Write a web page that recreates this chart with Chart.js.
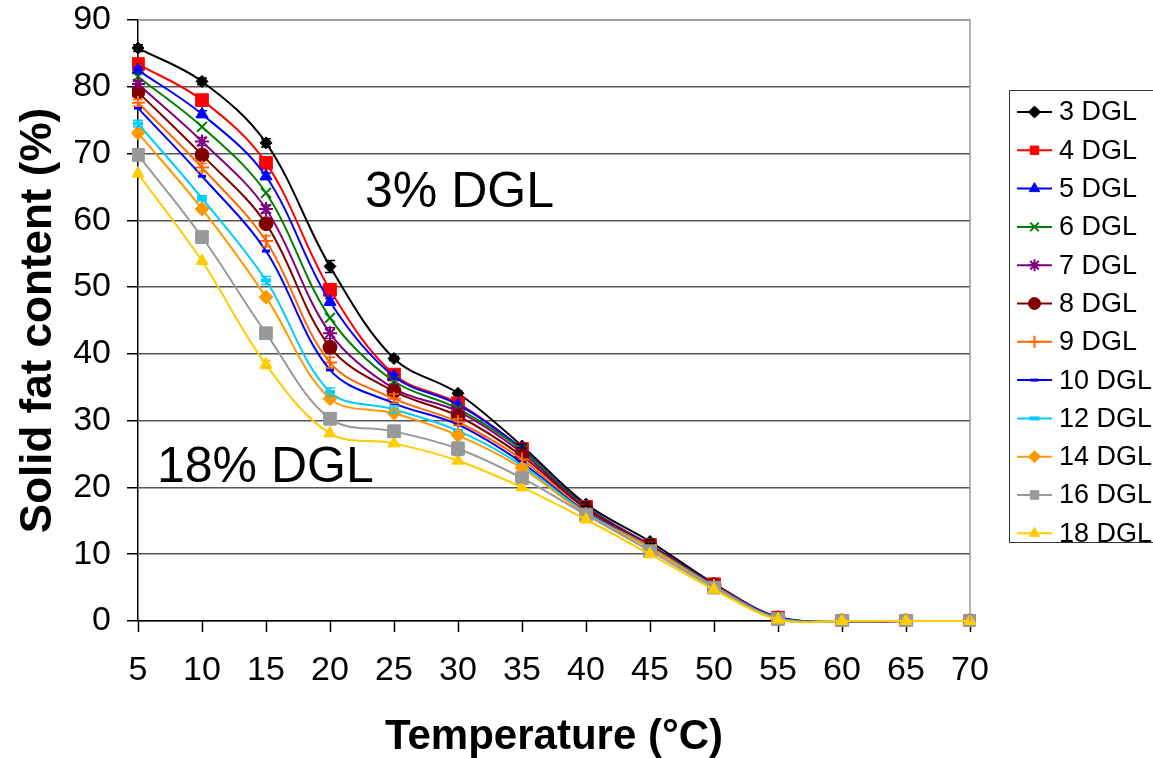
<!DOCTYPE html>
<html>
<head>
<meta charset="utf-8">
<title>Solid fat content vs temperature</title>
<script src="https://cdn.jsdelivr.net/npm/chart.js@4.4.0/dist/chart.umd.min.js"></script>
<style>
  html, body { margin: 0; padding: 0; background: #fff; }
  #wrap { width: 1153px; height: 758px; position: relative; }
</style>
</head>
<body>
<div id="wrap"><canvas id="sfcChart" width="1153" height="758"></canvas></div>
<script>
// temperatures (°C)
const temps = [5, 10, 15, 20, 25, 30, 35, 40, 45, 50, 55, 60, 65, 70];

// solid fat content (%) per DGL level
const dgl3  = [85.8, 80.8, 71.6, 53.1, 39.3, 34.1, 26.2, 17.5, 11.9, 5.6, 0.6, 0, 0, 0];
const dgl4  = [83.4, 78.0, 68.6, 49.6, 36.9, 32.6, 25.8, 17.1, 11.4, 5.5, 0.5, 0, 0, 0];
const dgl5  = [82.5, 75.9, 66.6, 47.8, 36.6, 32.4, 25.8, 17.1, 11.4, 5.5, 0.5, 0, 0, 0];
const dgl6  = [81.5, 74.0, 64.1, 45.4, 35.9, 31.8, 25.6, 17.0, 11.3, 5.4, 0.5, 0, 0, 0];
const dgl7  = [80.4, 71.8, 61.7, 43.1, 34.8, 31.4, 25.2, 16.9, 11.3, 5.4, 0.5, 0, 0, 0];
const dgl8  = [79.2, 69.8, 59.5, 41.0, 34.4, 30.7, 24.7, 16.8, 11.2, 5.4, 0.4, 0, 0, 0];
const dgl9  = [77.6, 67.9, 56.9, 38.7, 33.3, 29.8, 24.2, 16.4, 11.1, 5.3, 0.4, 0, 0, 0];
const dgl10 = [76.8, 66.6, 55.4, 37.6, 32.6, 29.4, 23.7, 16.3, 11.0, 5.2, 0.4, 0, 0, 0];
const dgl12 = [74.5, 63.3, 51.0, 34.3, 31.7, 28.5, 23.3, 16.2, 11.0, 5.2, 0.4, 0, 0, 0];
const dgl14 = [73.1, 61.7, 48.5, 33.3, 31.1, 27.8, 22.9, 16.0, 10.9, 5.1, 0.3, 0, 0, 0];
const dgl16 = [69.8, 57.5, 43.1, 30.3, 28.4, 25.8, 21.4, 15.9, 10.5, 5.0, 0.3, 0, 0, 0];
const dgl18 = [67.0, 53.9, 38.4, 28.1, 26.6, 24.0, 20.0, 15.2, 10.0, 4.7, 0.2, 0, 0, 0];

// standard deviations (error bars), same order as the series
const sd3  = [0.5, 0.5, 0.6, 0.9, 0.3, 0.3, 0.3, 0.3, 0.3, 0, 0, 0, 0, 0];
const sd5  = [0.4, 0.5, 0.5, 0.5, 0.3, 0, 0, 0, 0, 0, 0, 0, 0, 0];
const sd7  = [0.5, 0.6, 0.6, 0.8, 0, 0, 0, 0, 0, 0, 0, 0, 0, 0];
const sd9  = [0.5, 0.6, 0.8, 0.8, 0.7, 0.5, 0, 0, 0, 0, 0, 0, 0, 0];
const sd12 = [0.5, 0.4, 0.6, 0.6, 0.5, 0, 0, 0, 0, 0, 0, 0, 0, 0];
const sd16 = [0, 0, 0, 0.9, 0.9, 1.0, 0.7, 0, 0, 0, 0, 0, 0, 0];
const sd18 = [0, 0, 0.6, 0, 0, 0, 0, 0, 0, 0, 0, 0, 0, 0];
const none = [];

const seriesLabels = ['3 DGL', '4 DGL', '5 DGL', '6 DGL', '7 DGL', '8 DGL', '9 DGL', '10 DGL', '12 DGL', '14 DGL', '16 DGL', '18 DGL'];
const seriesValues = [dgl3, dgl4, dgl5, dgl6, dgl7, dgl8, dgl9, dgl10, dgl12, dgl14, dgl16, dgl18];
const seriesErrors = [sd3, none, sd5, none, sd7, none, sd9, none, sd12, none, sd16, sd18];
const seriesColors = ['#000000', '#ff0000', '#0000ff', '#008000', '#800080', '#800000', '#ff6600', '#0000ff', '#00ccff', '#ff9900', '#999999', '#ffcc00'];
const markerStyles = ['rectRot', 'rect', 'triangle', 'crossRot', 'star', 'circle', 'cross', 'line', 'line', 'rectRot', 'rect', 'triangle'];
const markerSizes  = [6, 9, 7, 7, 7, 7, 7, 4, 5, 7, 9, 7];
const markerBorder = [1, 1, 1, 2, 2, 1, 2, 3, 4, 1, 1, 1];

const FONT = "'Liberation Sans', Arial, sans-serif";

const datasets = seriesLabels.map((name, i) => ({
    label: name,
    data: temps.map((t, k) => ({ x: t, y: seriesValues[i][k] })),
    errors: seriesErrors[i],
    borderColor: seriesColors[i],
    backgroundColor: seriesColors[i],
    pointBorderColor: seriesColors[i],
    pointBackgroundColor: seriesColors[i],
    pointStyle: markerStyles[i],
    pointRadius: markerSizes[i],
    pointBorderWidth: markerBorder[i],
    borderWidth: 2,
    tension: 0.35,
    clip: 6,
    order: seriesLabels.length - i   // later series on top
}));

// error bars drawn at every point with a non-zero deviation
const errorBars = {
    id: 'errorBars',
    afterDatasetsDraw(chart) {
        const ctx = chart.ctx;
        const ys = chart.scales.y;
        chart.data.datasets.forEach((ds, i) => {
            const meta = chart.getDatasetMeta(i);
            ctx.save();
            ctx.strokeStyle = ds.borderColor;
            ctx.lineWidth = 1.5;
            meta.data.forEach((pt, k) => {
                const e = ds.errors[k];
                if (!e) return;
                const v = ds.data[k].y;
                const top = ys.getPixelForValue(v + e);
                const bot = ys.getPixelForValue(v - e);
                ctx.beginPath();
                ctx.moveTo(pt.x, top); ctx.lineTo(pt.x, bot);
                ctx.moveTo(pt.x - 5, top); ctx.lineTo(pt.x + 5, top);
                ctx.moveTo(pt.x - 5, bot); ctx.lineTo(pt.x + 5, bot);
                ctx.stroke();
            });
            ctx.restore();
        });
    }
};

// plot border, labels inside the plot and the legend box on the right
const decorations = {
    id: 'decorations',
    afterDraw(chart) {
        const ctx = chart.ctx;
        const a = chart.chartArea;
        ctx.save();
        ctx.strokeStyle = '#999';
        ctx.lineWidth = 1.5;
        ctx.beginPath();
        ctx.moveTo(a.left, a.top); ctx.lineTo(a.right, a.top); ctx.lineTo(a.right, a.bottom);
        ctx.stroke();

        ctx.fillStyle = '#000';
        ctx.font = '50px ' + FONT;
        ctx.textBaseline = 'alphabetic';
        ctx.textAlign = 'left';
        ctx.fillText('3% DGL', 365, 207);
        ctx.fillText('18% DGL', 157, 482);

        // legend
        const lx = 1009, ly = 90, lw = 170, lh = 452, step = 38.3;
        ctx.fillStyle = '#fff';
        ctx.fillRect(lx, ly, lw, lh);
        ctx.strokeStyle = '#333';
        ctx.lineWidth = 1;
        ctx.strokeRect(lx + 0.5, ly + 0.5, lw, lh);
        ctx.font = '27px ' + FONT;
        ctx.textBaseline = 'middle';
        chart.data.datasets.forEach((ds, i) => {
            const cy = ly + 22 + i * step;
            ctx.strokeStyle = ds.borderColor;
            ctx.lineWidth = 2;
            ctx.beginPath();
            ctx.moveTo(lx + 8, cy); ctx.lineTo(lx + 43, cy);
            ctx.stroke();
            ctx.fillStyle = ds.borderColor;
            ctx.lineWidth = ds.pointBorderWidth;
            Chart.helpers.drawPoint(ctx, {
                pointStyle: ds.pointStyle,
                radius: Math.min(ds.pointRadius, 6),
                rotation: 0,
                borderWidth: ds.pointBorderWidth
            }, lx + 25.5, cy);
            ctx.fillStyle = '#000';
            ctx.fillText(ds.label, lx + 50, cy + 1);
        });
        ctx.restore();
    }
};

const ctx = document.getElementById('sfcChart').getContext('2d');
const sfcChart = new Chart(ctx, {
    type: 'line',
    data: { datasets: datasets },
    plugins: [errorBars, decorations],
    options: {
        responsive: false,
        animation: false,
        layout: { padding: { top: 20, right: 183, left: 0, bottom: 0 } },
        elements: { line: { capBezierPoints: false } },
        plugins: {
            legend: { display: false },
            tooltip: { enabled: false }
        },
        scales: {
            x: {
                type: 'linear',
                min: 5,
                max: 70,
                afterFit: s => { s.height = 137; },
                ticks: {
                    stepSize: 5,
                    color: '#000',
                    padding: 18,
                    font: { family: FONT, size: 34 }
                },
                grid: {
                    drawOnChartArea: false,
                    drawTicks: true,
                    tickLength: 11,
                    tickColor: '#000',
                    tickWidth: 1.5
                },
                border: { color: '#000', width: 1.5 },
                title: {
                    display: true,
                    text: 'Temperature (°C)',
                    color: '#000',
                    font: { family: FONT, size: 42, weight: 'bold', lineHeight: 1 },
                    padding: { top: 0, bottom: 0 }
                }
            },
            y: {
                min: 0,
                max: 90,
                afterFit: s => { s.width = 138; s.paddingTop = 0; s.paddingBottom = 0; },
                ticks: {
                    stepSize: 10,
                    color: '#000',
                    padding: 16,
                    font: { family: FONT, size: 34 }
                },
                grid: {
                    color: c => (c.tick.value === 90 ? '#999' : '#555'),
                    lineWidth: 1.5,
                    tickLength: 11,
                    tickColor: '#000',
                    tickWidth: 1.5
                },
                border: { color: '#000', width: 1.5 },
                title: {
                    display: true,
                    text: 'Solid fat content (%)',
                    color: '#000',
                    font: { family: FONT, size: 44, weight: 'bold', lineHeight: 1 },
                    padding: { top: 17, bottom: 0 }
                }
            }
        }
    }
});
</script>
</body>
</html>
